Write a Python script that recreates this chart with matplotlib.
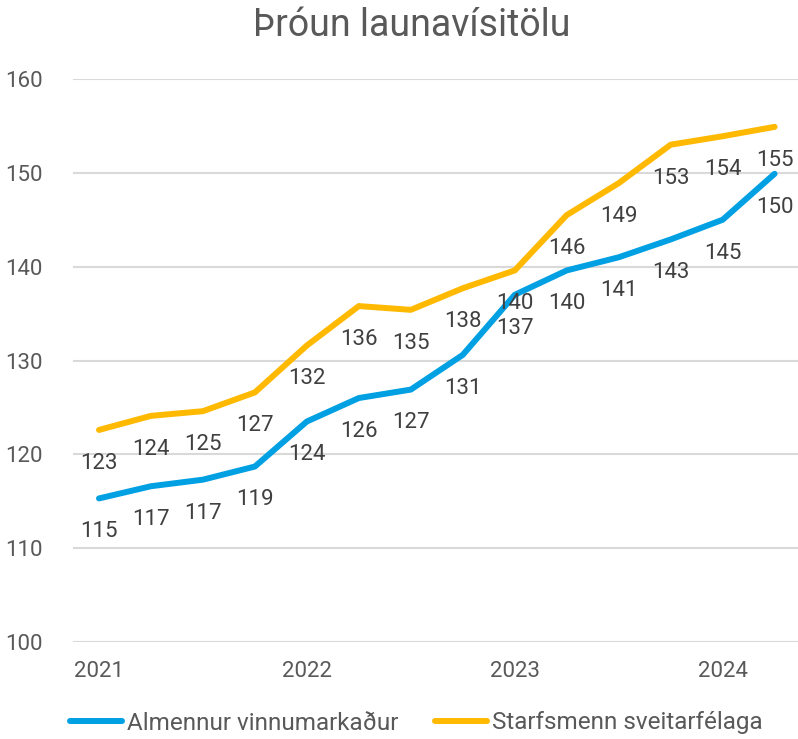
import matplotlib.pyplot as plt

plt.rcParams['font.family'] = ['Roboto', 'DejaVu Sans']

years = ["2021", "2022", "2023", "2024"]
almennur = [115.3, 116.6, 117.3, 118.7, 123.5, 126.0, 126.9, 130.6, 137.0, 139.6, 141.0, 142.9, 145.0, 149.9]
starfsmenn = [122.6, 124.1, 124.6, 126.6, 131.6, 135.8, 135.4, 137.7, 139.6, 145.5, 148.9, 153.0, 153.9, 154.9]

blue = "#00A0E3"
gold = "#FFB900"
grey = "#595959"
dark = "#404040"

fig = plt.figure(figsize=(7.98, 7.39), dpi=100)
ax = fig.add_axes([73 / 798, 1 - 642 / 739, 1 - 73 / 798, (642 - 79) / 739])

x = list(range(len(almennur)))
ax.plot(x, almennur, color=blue, lw=4.3, solid_capstyle="round", label="Almennur vinnumarkaður", zorder=3)
ax.plot(x, starfsmenn, color=gold, lw=4.3, solid_capstyle="round", label="Starfsmenn sveitarfélaga", zorder=3)

for series in (almennur, starfsmenn):
    for i, v in enumerate(series):
        ax.annotate(f"{v:.0f}", (i, v), xytext=(0, -24), textcoords="offset points",
                    ha="center", va="center", fontsize=16, color=dark, zorder=4)

ax.set_xlim(-0.5, 13.45)
ax.set_ylim(100, 160)
ax.set_yticks(range(100, 161, 10))
ax.set_xticks(range(0, len(almennur), 4))
ax.set_xticklabels(years)
ax.tick_params(length=0, labelsize=16, labelcolor=grey)
ax.tick_params(axis="y", pad=22)
ax.tick_params(axis="x", pad=14)
ax.grid(axis="y", color="#d9d9d9", lw=1.5)
ax.set_axisbelow(True)
for s in ax.spines.values():
    s.set_visible(False)

fig.text(412 / 798, 1 - 25 / 739, "Þróun launavísitölu", ha="center", va="center",
         fontsize=27, color=grey)

fig.legend(loc="center", bbox_to_anchor=(416 / 798, 1 - 723 / 739), ncol=2, frameon=False,
           fontsize=17.5, labelcolor=grey, handlelength=2.15, handletextpad=0.2, columnspacing=1.5)

fig.savefig("out.png", dpi=100)
